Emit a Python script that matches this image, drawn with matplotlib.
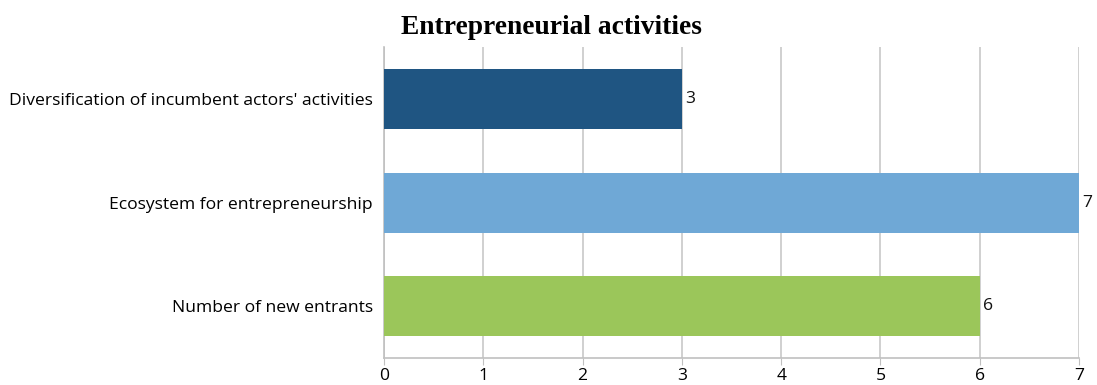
import matplotlib
matplotlib.use("Agg")
import matplotlib.pyplot as plt

categories = ["Diversification of incumbent actors' activities",
              "Ecosystem for entrepreneurship",
              "Number of new entrants"]
values = [3, 7, 6]
colors = ["#1F5582", "#6FA8D6", "#9BC65A"]
xticks = [0, 1, 2, 3, 4, 5, 6, 7]

fig = plt.figure(figsize=(10.97, 3.85), dpi=100)
ax = fig.add_axes([0.35, 0.070, 0.6336, 0.807])

ypos = list(range(len(categories)))[::-1]
ax.barh(ypos, values, height=0.58, color=colors, zorder=3)
for y, v in zip(ypos, values):
    ax.text(v + 0.03, y, str(v), va="center", ha="left", fontsize=12.6,
            family="Open Sans", color="#111111", zorder=4)

ax.set_xlim(0, 7)
ax.set_ylim(-0.5, 2.5)
ax.set_yticks(ypos)
ax.set_yticklabels(categories, family="Open Sans", fontsize=12.6)
ax.set_xticks(xticks)
ax.set_xticklabels([str(t) for t in xticks], family="Open Sans", fontsize=12.6)
ax.tick_params(axis="y", length=0, pad=8)
ax.tick_params(axis="x", length=5, color="#C0C0C0", pad=2)
ax.grid(axis="x", color="#C8C8C8", linewidth=1.2, zorder=0)
for s in ["top", "right"]:
    ax.spines[s].set_visible(False)
for s in ["left", "bottom"]:
    ax.spines[s].set_color("#C0C0C0")
    ax.spines[s].set_linewidth(1.2)

fig.text(0.503, 0.928, "Entrepreneurial activities", ha="center", va="center",
         family="Liberation Serif", fontweight="bold", fontsize=19.8)

fig.savefig("out.png", dpi=100)
